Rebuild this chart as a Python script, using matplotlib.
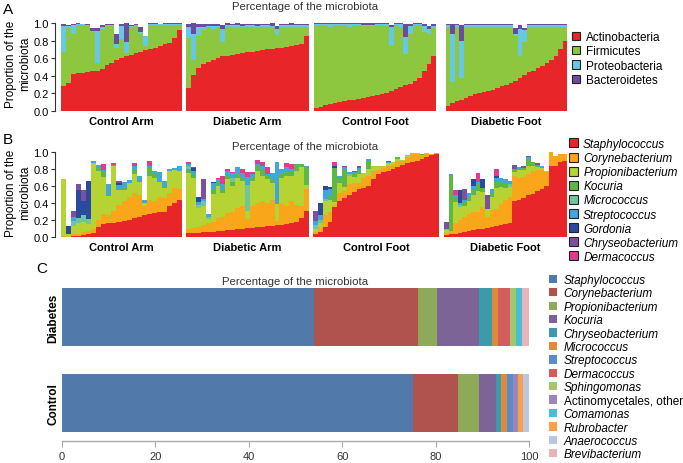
import numpy as np
import matplotlib
matplotlib.use('Agg')
import matplotlib.pyplot as plt
from matplotlib.patches import Patch

plt.rcParams['font.family'] = ['Liberation Sans', 'DejaVu Sans']

#####################################################################
# data
#####################################################################
groups = ['Control Arm', 'Diabetic Arm', 'Control Foot', 'Diabetic Foot']

# panel A: phylum proportions per sample, columns follow phyla
phyla = ['Actinobacteria', 'Firmicutes', 'Proteobacteria', 'Bacteroidetes']
phyla_colors = ['#e8262a', '#8dc63f', '#67c8e3', '#6a4c9c']

a_control_arm = [
    [.28, .39, .30, .02], [.32, .62, .03, .01], [.42, .45, .11, .01], [.43, .55, .01, .01],
    [.43, .55, .01, .00], [.44, .53, .01, .01], [.45, .45, .01, .03], [.46, .09, .36, .03],
    [.48, .45, .03, .02], [.52, .45, .01, .01], [.55, .42, .01, .01], [.58, .14, .04, .11],
    [.60, .22, .15, .02], [.63, .03, .12, .22], [.64, .31, .02, .01], [.66, .31, .01, .01],
    [.67, .21, .02, .06], [.69, .05, .11, .00], [.70, .28, .01, .01], [.72, .26, .01, .01],
    [.74, .24, .01, .00], [.76, .22, .01, .01], [.77, .21, .01, .01], [.83, .15, .01, .01],
    [.92, .06, .01, .01]]
a_diabetic_arm = [
    [.26, .57, .13, .03], [.41, .17, .29, .13], [.49, .36, .10, .04], [.53, .39, .03, .04],
    [.56, .39, .02, .02], [.58, .35, .04, .02], [.60, .34, .03, .02], [.62, .16, .15, .05],
    [.63, .32, .03, .02], [.64, .32, .02, .01], [.65, .30, .03, .02], [.66, .29, .02, .02],
    [.67, .28, .03, .01], [.67, .29, .02, .01], [.68, .27, .02, .02], [.69, .27, .02, .01],
    [.70, .25, .03, .01], [.71, .24, .02, .03], [.72, .14, .07, .04], [.72, .24, .02, .01],
    [.73, .23, .02, .01], [.74, .22, .02, .02], [.75, .21, .02, .01], [.76, .20, .02, .01],
    [.85, .11, .02, .01]]
a_control_foot = [
    [.03, .95, .01, .01], [.05, .93, .01, .01], [.07, .91, .01, .01], [.08, .87, .04, .01],
    [.09, .89, .01, .01], [.10, .88, .01, .01], [.11, .87, .01, .01], [.12, .84, .03, .01],
    [.13, .85, .01, .01], [.14, .84, .01, .01], [.15, .82, .01, .02], [.16, .81, .01, .02],
    [.17, .80, .01, .02], [.18, .80, .01, .01], [.19, .79, .01, .01], [.21, .76, .02, .01],
    [.23, .51, .22, .02], [.25, .73, .01, .01], [.27, .69, .03, .01], [.29, .36, .19, .15],
    [.31, .57, .09, .02], [.34, .64, .01, .01], [.38, .60, .01, .01], [.45, .45, .07, .02],
    [.53, .35, .05, .04], [.62, .32, .03, .02]]
a_diabetic_foot = [
    [.06, .90, .02, .01], [.09, .24, .55, .11], [.11, .85, .02, .01], [.13, .24, .43, .18],
    [.15, .81, .02, .01], [.17, .79, .02, .01], [.19, .77, .02, .01], [.21, .75, .02, .01],
    [.22, .74, .02, .01], [.23, .73, .02, .01], [.24, .72, .02, .01], [.26, .70, .02, .01],
    [.28, .68, .02, .01], [.30, .66, .02, .01], [.32, .64, .02, .01], [.34, .51, .02, .07],
    [.37, .25, .31, .05], [.41, .37, .14, .02], [.44, .52, .02, .01], [.46, .50, .02, .01],
    [.49, .47, .02, .01], [.51, .45, .02, .01], [.54, .42, .02, .01], [.58, .38, .02, .01],
    [.63, .33, .02, .01], [.70, .26, .02, .01], [.79, .17, .02, .01]]

# panel B: genus proportions per sample, columns follow genera
genera = ['Staphylococcus', 'Corynebacterium', 'Propionibacterium', 'Kocuria', 'Micrococcus',
          'Streptococcus', 'Gordonia', 'Chryseobacterium', 'Dermacoccus']
genera_colors = ['#e8262a', '#f9a61b', '#b5d333', '#5db746', '#6fc69c',
                 '#40a6dd', '#2a4a9f', '#7d509e', '#e23a8f']

b_control_arm = [
    [.00, .01, .67, 0, 0, 0, 0, 0, 0], [.00, .00, .03, 0, 0, .01, .09, 0, 0],
    [.01, .02, .10, 0, .06, .04, 0, .08, 0], [.01, .03, .13, 0, .05, 0, .33, .07, 0],
    [.02, .04, .12, 0, .08, 0, .16, .13, 0], [.03, .04, .08, 0, .06, 0, .45, 0, 0],
    [.05, .04, .78, 0, 0, .02, 0, 0, 0], [.12, .08, .58, .03, 0, .04, 0, 0, 0],
    [.15, .12, .44, .05, 0, .03, 0, 0, .07], [.16, .10, .22, 0, 0, .14, 0, 0, 0],
    [.17, .14, .52, .02, 0, 0, 0, 0, .02], [.18, .20, .17, 0, 0, .06, .02, .03, 0],
    [.19, .23, .13, .04, 0, .06, 0, 0, 0], [.20, .27, .16, 0, 0, .04, 0, 0, 0],
    [.22, .30, .22, .05, 0, .05, 0, 0, .03], [.24, .26, .15, 0, 0, .07, 0, 0, 0],
    [.26, .10, .04, 0, 0, .03, 0, 0, 0], [.27, .17, .28, .10, 0, .02, 0, 0, .06],
    [.28, .14, .27, .06, 0, .03, 0, 0, 0], [.29, .18, .18, 0, 0, .12, 0, 0, 0],
    [.30, .16, .12, 0, 0, .08, 0, 0, 0], [.36, .16, .26, 0, 0, .02, 0, 0, 0],
    [.40, .18, .21, 0, 0, .02, 0, 0, 0], [.44, .12, .22, 0, 0, .05, 0, 0, 0]]
b_diabetic_arm = [
    [.05, .04, .66, .05, .03, .03, 0, 0, .02], [.05, .06, .58, .05, 0, .04, .03, .01, 0],
    [.05, .07, .22, 0, .04, .03, .06, 0, 0], [.06, .08, .22, 0, .06, .03, 0, .23, 0],
    [.06, .10, .05, 0, .03, .03, 0, 0, 0], [.06, .12, .33, .04, 0, .08, .02, 0, 0],
    [.07, .15, .38, .05, 0, .03, 0, 0, .02], [.07, .17, .28, .05, 0, .05, 0, 0, .10],
    [.08, .20, .40, .05, 0, .05, 0, 0, .02], [.08, .22, .30, .05, .05, .05, 0, 0, .02],
    [.10, .24, .35, .05, 0, .08, 0, 0, 0], [.10, .26, .30, .04, 0, .05, 0, 0, .05],
    [.11, .10, .10, 0, .30, .10, 0, 0, .05], [.11, .25, .30, .04, 0, .04, 0, 0, .03],
    [.12, .28, .38, .05, 0, .03, 0, 0, .05], [.12, .30, .30, .08, 0, .03, 0, 0, .05],
    [.13, .27, .28, .04, 0, .02, 0, 0, .08], [.13, .30, .20, .05, 0, .07, 0, 0, 0],
    [.14, .05, .20, 0, 0, .49, 0, 0, 0], [.14, .25, .30, .06, 0, .05, 0, 0, 0],
    [.15, .22, .35, .05, 0, .05, 0, 0, .05], [.16, .26, .30, .04, 0, .04, 0, 0, .06],
    [.18, .20, .40, .08, 0, 0, 0, 0, 0], [.22, .15, .45, .04, 0, 0, 0, 0, 0],
    [.31, .25, .05, .20, 0, .02, 0, .01, 0]]
b_control_foot = [
    [.03, .03, .03, 0, .05, .05, 0, .12, 0], [.06, .06, .04, 0, .04, .06, .14, 0, 0],
    [.12, .14, .16, 0, .03, .10, .05, 0, 0], [.18, .12, .14, .06, 0, .06, .03, 0, 0],
    [.35, .03, .03, .40, 0, 0, .02, 0, .05], [.42, .10, .12, .05, 0, .03, 0, 0, 0],
    [.46, .08, .05, .20, 0, .03, 0, .02, 0], [.50, .12, .10, 0, .02, .02, 0, 0, 0],
    [.53, .10, .08, .03, 0, .02, 0, .02, 0], [.56, .08, .10, .05, 0, .02, 0, .03, 0],
    [.58, .12, .05, 0, 0, 0, 0, 0, 0], [.60, .12, .08, .10, 0, .02, 0, 0, 0],
    [.68, .10, .05, 0, 0, 0, 0, 0, 0], [.74, .05, .05, 0, 0, 0, 0, 0, 0],
    [.76, .05, .03, 0, 0, 0, 0, 0, 0], [.78, .05, .04, 0, 0, .01, 0, .02, 0],
    [.80, .05, .03, 0, 0, 0, 0, 0, 0], [.82, .08, .02, .02, 0, 0, 0, 0, 0],
    [.85, .05, .01, 0, 0, 0, 0, 0, 0], [.87, .07, .02, 0, 0, 0, 0, 0, 0],
    [.88, .10, .01, 0, 0, 0, 0, 0, 0], [.90, .08, .01, 0, 0, 0, 0, 0, 0],
    [.92, .05, 0, .01, 0, 0, 0, 0, 0], [.94, .04, .01, 0, 0, 0, 0, 0, 0],
    [.96, .02, 0, 0, 0, 0, 0, 0, 0], [.98, .01, 0, 0, 0, 0, 0, 0, 0]]
b_diabetic_foot = [
    [.02, .03, .03, 0, .02, 0, 0, .08, 0], [.03, .04, 0, .65, 0, .02, 0, 0, 0],
    [.04, .12, .25, .05, 0, .03, 0, 0, .06], [.05, .15, .15, 0, .03, .02, .15, 0, 0],
    [.06, .18, .12, .05, 0, .03, 0, .12, 0], [.07, .20, .15, .05, 0, .05, 0, 0, 0],
    [.08, .22, .20, .05, 0, .05, .08, 0, 0], [.09, .20, .25, .08, 0, .03, 0, 0, .10],
    [.10, .25, .18, .05, 0, 0, .10, 0, 0], [.11, .12, .10, 0, 0, 0, 0, .16, 0],
    [.12, .20, .15, .05, 0, .04, 0, 0, 0], [.13, .20, .25, .08, 0, .04, .02, 0, .08],
    [.14, .25, .20, .06, 0, .05, 0, 0, 0], [.15, .28, .15, .05, 0, .05, 0, 0, 0],
    [.17, .30, .12, 0, .03, .04, 0, 0, 0], [.42, .30, .05, .03, 0, 0, 0, .05, 0],
    [.44, .25, .10, 0, 0, .03, 0, 0, 0], [.46, .25, .08, .02, 0, 0, 0, .02, 0],
    [.49, .25, .10, .08, 0, .02, 0, .01, 0], [.51, .27, .05, .05, 0, 0, 0, 0, 0],
    [.54, .25, .03, .03, 0, 0, 0, .02, 0], [.57, .22, .02, 0, 0, .03, 0, 0, 0],
    [.60, .16, .02, 0, 0, 0, 0, 0, 0], [.84, .16, 0, 0, 0, 0, 0, 0, 0],
    [.84, .11, 0, 0, 0, 0, 0, 0, 0], [.88, .10, 0, 0, 0, 0, 0, 0, 0],
    [.90, .08, 0, 0, 0, 0, 0, 0, 0]]

# panel C: mean percentage per cohort
c_genera = ['Staphylococcus', 'Corynebacterium', 'Propionibacterium', 'Kocuria',
            'Chryseobacterium', 'Micrococcus', 'Streptococcus', 'Dermacoccus',
            'Sphingomonas', 'Actinomycetales, other', 'Comamonas', 'Rubrobacter',
            'Anaerococcus', 'Brevibacterium']
c_colors = ['#5179a9', '#b0534f', '#8fa95a', '#7c6497', '#3d9aab', '#dc8a3e', '#5a8ccc',
            '#d35d5a', '#a3c76a', '#9a86bb', '#4bbcd6', '#f7a24a', '#b9c7e3', '#e6b5b7']
c_diabetes = [54.0, 22.3, 3.9, 9.2, 2.7, 1.2, 0.0, 2.6, 1.3, 0.0, 1.4, 0.0, 0.0, 1.4]
c_control = [75.2, 9.5, 4.7, 3.5, 1.2, 1.1, 1.3, 0.0, 0.0, 1.2, 0.0, 1.1, 1.2, 0.0]

#####################################################################
# layout helpers (pixel boxes of the reference)
#####################################################################
W, H = 683, 464
fig = plt.figure(figsize=(W / 100, H / 100), dpi=100)

def box(x0, x1, y0, y1):
    return [x0 / W, 1 - y1 / H, (x1 - x0) / W, (y1 - y0) / H]

def fx(x):
    return x / W

def fy(y):
    return 1 - y / H

def stacked_group(rect, rows, colors, label, first):
    ax = fig.add_axes(rect)
    vals = np.array(rows, dtype=float)
    x = np.arange(len(vals))
    bottom = np.zeros(len(vals))
    for j, c in enumerate(colors):
        ax.bar(x, vals[:, j], bottom=bottom, width=1.0, color=c, linewidth=0)
        bottom += vals[:, j]
    ax.set_xlim(-0.5, len(vals) - 0.5)
    ax.set_ylim(0, 1)
    ax.set_xticks([])
    for s in ['top', 'right', 'bottom']:
        ax.spines[s].set_visible(False)
    if first:
        ax.spines['left'].set_position(('outward', 4))
        ax.spines['left'].set_color('#333333')
        ax.spines['left'].set_linewidth(0.8)
        ax.set_yticks(np.arange(0, 1.01, 0.2))
        ax.set_yticklabels(['%.1f' % v for v in np.arange(0, 1.01, 0.2)], fontsize=8)
        ax.tick_params(axis='y', length=3, width=0.8, color='#333333', pad=2)
    else:
        ax.spines['left'].set_visible(False)
        ax.set_yticks([])
    ax.text(0.5, -0.115, label, transform=ax.transAxes, ha='center', va='center',
            fontsize=8, fontweight='bold')
    return ax

#####################################################################
# panel A
#####################################################################
a_rows = [a_control_arm, a_diabetic_arm, a_control_foot, a_diabetic_foot]
a_x = [(61, 182), (186, 309), (314, 436), (446, 567)]
for i in range(4):
    stacked_group(box(a_x[i][0], a_x[i][1], 24, 112), a_rows[i], phyla_colors, groups[i], i == 0)

fig.text(fx(305), fy(7), 'Percentage of the microbiota', ha='center', va='center',
         fontsize=8.2, color='#333333')
fig.text(fx(18), fy(64), 'Proportion of the\nmicrobiota', ha='center', va='center',
         rotation=90, fontsize=8.5, linespacing=1.25)
fig.text(fx(3), fy(10), 'A', ha='left', va='center', fontsize=11)

leg_a = fig.legend([Patch(facecolor=c, edgecolor='#222222', linewidth=0.8) for c in phyla_colors],
                   phyla, loc='upper left', bbox_to_anchor=(fx(572), fy(32)), frameon=False,
                   fontsize=8.5, handlelength=0.7, handleheight=0.7, handletextpad=0.5,
                   labelspacing=0.2, borderpad=0, borderaxespad=0)

#####################################################################
# panel B
#####################################################################
b_rows = [b_control_arm, b_diabetic_arm, b_control_foot, b_diabetic_foot]
b_x = [(61, 182), (186, 309), (313, 439), (444, 567)]
for i in range(4):
    stacked_group(box(b_x[i][0], b_x[i][1], 153, 238), b_rows[i], genera_colors, groups[i], i == 0)

fig.text(fx(305), fy(147), 'Percentage of the microbiota', ha='center', va='center',
         fontsize=8.2, color='#333333')
fig.text(fx(18), fy(193), 'Proportion of the\nmicrobiota', ha='center', va='center',
         rotation=90, fontsize=8.5, linespacing=1.25)
fig.text(fx(3), fy(140), 'B', ha='left', va='center', fontsize=11)

leg_b = fig.legend([Patch(facecolor=c, edgecolor='#222222', linewidth=0.8) for c in genera_colors],
                   genera, loc='upper left', bbox_to_anchor=(fx(569), fy(139)), frameon=False,
                   fontsize=8.5, handlelength=0.8, handleheight=0.8, handletextpad=0.4,
                   labelspacing=0.18, borderpad=0, borderaxespad=0)
for t in leg_b.get_texts():
    t.set_style('italic')

#####################################################################
# panel C
#####################################################################
axc = fig.add_axes(box(62, 529, 285, 442))
left = np.zeros(2)
for j, c in enumerate(c_colors):
    v = np.array([c_control[j], c_diabetes[j]])
    axc.barh([0, 1], v, left=left, height=0.68, color=c, linewidth=0)
    left += v
axc.set_xlim(0, 100)
axc.set_ylim(-0.444, 1.39)
for s in ['top', 'right', 'left']:
    axc.spines[s].set_visible(False)
axc.spines['bottom'].set_color('#aaaaaa')
axc.spines['bottom'].set_linewidth(1.0)
axc.set_xticks(np.arange(0, 101, 20))
axc.tick_params(axis='x', length=4, color='#aaaaaa', labelsize=8, labelcolor='#333333', pad=3)
axc.set_yticks([0, 1])
axc.set_yticklabels(['Control', 'Diabetes'], rotation=90, va='center', fontsize=8.5,
                    fontweight='bold')
axc.tick_params(axis='y', length=0, pad=2)

fig.text(fx(295), fy(282), 'Percentage of the microbiota', ha='center', va='center',
         fontsize=8.2, color='#333333')
fig.text(fx(36), fy(269), 'C', ha='left', va='center', fontsize=11)

leg_c = fig.legend([Patch(facecolor=c, edgecolor='none') for c in c_colors],
                   c_genera, loc='upper left', bbox_to_anchor=(fx(549), fy(275)), frameon=False,
                   fontsize=8.5, handlelength=0.7, handleheight=0.7, handletextpad=0.55,
                   labelspacing=0.12, borderpad=0, borderaxespad=0)
for t in leg_c.get_texts():
    if not t.get_text().startswith('Actinomycetales'):
        t.set_style('italic')

plt.savefig('out.png', dpi=100)
plt.close()
